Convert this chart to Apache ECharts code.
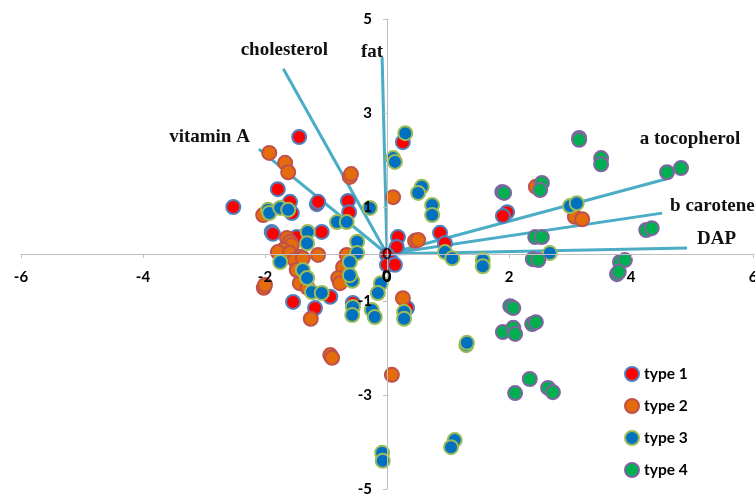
<!DOCTYPE html>
<html><head><meta charset="utf-8">
<script src="https://cdn.jsdelivr.net/npm/echarts@6/dist/echarts.min.js"></script>
<style>html,body{margin:0;padding:0;background:#fff}#c{width:755px;height:495px}</style>
</head><body><div id="c"></div>
<script>
// ---- data ----
const xTickValues = [-6, -4, -2, 0, 2, 4, 6];
const yTickValues = [-5, -3, -1, 1, 3, 5];
const typeNames = ['type 1', 'type 2', 'type 3', 'type 4'];

const type1 = [
  [-2.52, 1.00], [-1.44, 2.49], [-1.79, 1.38], [-1.59, 1.11], [-1.56, 0.87],
  [-1.15, 1.06], [-1.13, 1.11], [-0.64, 1.13], [-0.62, 0.89], [-1.89, 0.47],
  [-1.87, 0.43], [-1.07, 0.47], [-1.48, 0.36], [-0.93, -0.91], [-1.54, -1.02],
  [-1.18, -1.15], [0.18, 0.36], [0.16, 0.15], [0.00, -0.02], [0.08, -0.17],
  [0.00, -0.23], [0.13, -0.23], [0.26, 2.38], [0.87, 0.45], [0.95, 0.23],
  [1.97, 0.89], [1.90, 0.81], [0.33, -1.15], [-0.56, -1.04]
];
const type2 = [
  [-1.93, 2.15], [-1.67, 1.94], [-1.62, 1.74], [-0.61, 1.64], [-0.59, 1.70],
  [-2.03, 0.83], [0.10, 1.21], [-1.64, 0.34], [-1.59, 0.26], [-1.56, 0.19],
  [-1.70, 0.09], [-1.79, 0.04], [-1.59, 0.02], [-1.43, -0.06], [-1.51, -0.13],
  [-1.38, -0.09], [-1.48, -0.34], [-1.43, -0.62], [-1.30, -0.72], [-1.13, -0.02],
  [-0.66, -0.02], [-0.72, -0.28], [-0.80, -0.51], [-0.77, -0.62], [-2.02, -0.72],
  [-2.00, -0.66], [-1.25, -1.38], [-0.93, -2.15], [-0.90, -2.21], [0.08, -2.57],
  [0.26, -0.94], [0.46, 0.28], [0.51, 0.30], [2.44, 1.43], [3.08, 0.79], [3.20, 0.74]
];
const type3 = [
  [-1.95, 0.94], [-1.93, 0.87], [-1.75, 0.98], [-1.62, 0.94], [-0.82, 0.68],
  [-0.66, 0.68], [-0.28, 0.98], [-1.30, 0.47], [-1.31, 0.23], [-1.75, -0.17],
  [-1.38, -0.34], [-1.31, -0.51], [-1.23, -0.81], [-1.07, -0.83], [-0.49, 0.26],
  [-0.49, 0.02], [-0.61, -0.17], [-0.57, -0.57], [-0.61, -0.45], [-0.56, -1.13],
  [-0.57, -1.30], [-0.25, -1.19], [-0.20, -1.34], [-0.10, -0.62], [-0.15, -0.83],
  [0.30, 2.57], [0.10, 2.04], [0.13, 1.96], [0.57, 1.43], [0.51, 1.30],
  [0.74, 1.04], [0.74, 0.83], [0.95, 0.04], [1.07, -0.09], [1.57, -0.13],
  [1.57, -0.26], [2.67, 0.02], [3.00, 1.02], [3.11, 1.08], [0.28, -1.23],
  [0.28, -1.38], [1.30, -1.94], [1.31, -1.89], [1.11, -3.96], [1.05, -4.11],
  [-0.08, -4.23], [-0.07, -4.40]
];
const type4 = [
  [3.15, 2.47], [3.15, 2.43], [3.51, 2.04], [3.51, 1.91], [4.59, 1.74],
  [4.82, 1.83], [1.89, 1.32], [1.92, 1.30], [2.54, 1.51], [2.51, 1.36],
  [2.43, 0.36], [2.54, 0.36], [2.39, -0.11], [2.48, -0.13], [4.25, 0.51],
  [4.34, 0.55], [3.82, -0.17], [3.90, -0.13], [3.77, -0.43], [3.80, -0.38],
  [2.02, -1.11], [2.07, -1.15], [1.90, -1.66], [2.07, -1.57], [2.10, -1.70],
  [2.38, -1.49], [2.44, -1.45], [2.34, -2.66], [2.10, -2.96], [2.64, -2.85],
  [2.72, -2.94]
];

const vectorNames = ['cholesterol', 'fat', 'vitamin A', 'a tocopherol', 'b carotene', 'DAP'];
const vectorX = [-1.70, -0.08, -2.10, 4.59, 4.51, 4.92];
const vectorY = [3.94, 4.19, 2.23, 1.60, 0.87, 0.13];
const originLabel = '0';

// ---- styles / layout ----
const W = 755, H = 495;
const G = { left: 21, right: 2, top: 19, bottom: 6 };
const fills = ['#ff0000', '#e46c0a', '#0070c0', '#00b050'];
const borders = ['#4f81bd', '#c0504d', '#9bbb59', '#8064a2'];
const vecLabelPlace = [
  { position: 'top', offset: [1, -4] },
  { position: 'left', offset: [6, -5] },
  { position: 'left', offset: [-4, -12] },
  { position: 'top', offset: [23, -25] },
  { position: 'right', offset: [3, -7] },
  { position: 'right', offset: [5, -9] }
];
const serifFont = { fontFamily: 'Liberation Serif', fontWeight: 'bold', fontSize: 19, color: '#111' };
const axisFont = { fontFamily: 'Lato', fontWeight: 'bold', fontSize: 15, color: '#000' };

const xMin = xTickValues[0], xMax = xTickValues[xTickValues.length - 1];
const yMin = yTickValues[0], yMax = yTickValues[yTickValues.length - 1];
// move axes (with their labels) onto the zero lines
const gridW = W - G.left - G.right, gridH = H - G.top - G.bottom;
const xAxisOffset = -gridH * (0 - yMin) / (yMax - yMin);
const yAxisOffset = -gridW * (0 - xMin) / (xMax - xMin);
const zeroX = G.left + gridW * (0 - xMin) / (xMax - xMin);
const zeroY = G.top + gridH * (yMax - 0) / (yMax - yMin);

const series = [];
vectorNames.forEach((n, i) => {
  series.push({
    type: 'line', name: n, silent: true, symbol: 'circle', symbolSize: 0, showSymbol: true, z: 1,
    lineStyle: { color: '#4bacc6', width: 3 },
    itemStyle: { color: '#4bacc6' },
    data: [[0, 0], {
      value: [vectorX[i], vectorY[i]],
      label: Object.assign({ show: true, formatter: n }, vecLabelPlace[i], serifFont)
    }]
  });
});
[type1, type2, type3, type4].forEach((d, i) => {
  series.push({
    type: 'scatter', name: typeNames[i], z: 2,
    symbol: 'circle', symbolSize: 14,
    itemStyle: { color: fills[i], borderColor: borders[i], borderWidth: 2, opacity: 1 },
    data: d
  });
});
// origin marker text
series.push({
  type: 'scatter', name: 'origin', silent: true, z: 5, symbolSize: 0,
  data: [{ value: [0, 0], label: { show: true, position: 'inside', formatter: originLabel,
    fontFamily: 'Lato', fontWeight: 'bold', fontSize: 16, color: '#000' } }]
});

const chart = echarts.init(document.getElementById('c'), null, { renderer: 'canvas' });
chart.setOption({
  animation: false,
  backgroundColor: '#fff',
  grid: Object.assign({ containLabel: false, outerBoundsMode: 'none' }, G),
  xAxis: {
    type: 'value', min: xMin, max: xMax, interval: 2, offset: xAxisOffset, z: 3,
    splitLine: { show: false },
    axisLine: { onZero: false, lineStyle: { color: '#bfbfbf', width: 1 } },
    axisTick: { show: true, length: 4, lineStyle: { color: '#bfbfbf' } },
    axisLabel: Object.assign({ margin: 16, showMaxLabel: true, showMinLabel: true, hideOverlap: false }, axisFont)
  },
  yAxis: {
    type: 'value', min: yMin, max: yMax, interval: 2, offset: yAxisOffset, z: 3,
    splitLine: { show: false },
    axisLine: { onZero: false, lineStyle: { color: '#bfbfbf', width: 1 } },
    axisTick: { show: true, length: 4, lineStyle: { color: '#bfbfbf' } },
    axisLabel: Object.assign({ margin: 15, showMaxLabel: true, showMinLabel: true, hideOverlap: false }, axisFont)
  },
  legend: {
    data: typeNames, orient: 'vertical', left: 619, top: 361,
    icon: 'circle', itemWidth: 14, itemHeight: 14, itemGap: 16,
    textStyle: { fontFamily: 'Lato', fontWeight: 'bold', fontSize: 15.5, color: '#000' }
  },
  // x-axis "0" tick label (the axis itself does not draw the label where the axes cross)
  graphic: {
    elements: [{
      type: 'text', z: 100, left: zeroX - 5, top: zeroY + 15,
      style: { text: String(xTickValues[3]), fontFamily: 'Lato', fontWeight: 'bold', fontSize: 15, fill: '#000' }
    }]
  },
  series: series
});
</script></body></html>
